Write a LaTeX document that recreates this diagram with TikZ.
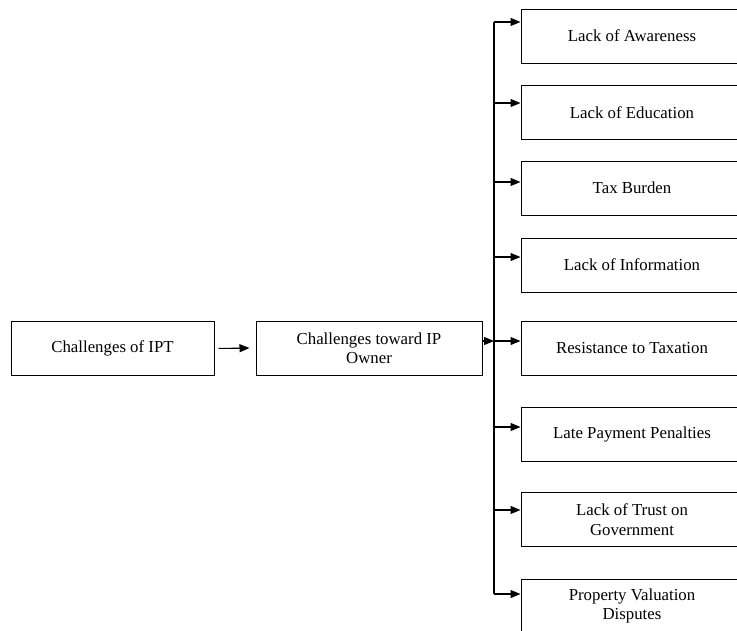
\documentclass[tikz,border=0pt]{standalone}
\usepackage{fontspec}
\setmainfont{Liberation Serif}
\usetikzlibrary{arrows.meta}
\begin{document}
\begin{tikzpicture}
	[x=1pt,y=-1pt,
	box/.style={draw,line width=1pt,minimum height=54pt,align=center,inner sep=0pt,font=\fontsize{16.8}{19.5}\selectfont},
	item/.style={box,minimum width=222pt},
	arr/.style={line width=1.1pt,-{Triangle[length=10pt,width=8pt]}}]
	\useasboundingbox (0,0) rectangle (737,630);
	\node[box,minimum width=203pt,name=ipt] at (112.5,348.5) {Challenges of IPT};
	\node[box,minimum width=226pt,name=owner] at (369,348) {Challenges toward IP\\Owner};
	\node[item,name=aware] at (632,36) {Lack of Awareness};
	\node[item,name=educ] at (632,112.5) {Lack of Education};
	\node[item,name=tax] at (632,188) {Tax Burden};
	\node[item,name=info] at (632,265) {Lack of Information};
	\node[item,name=resist] at (632,348) {Resistance to Taxation};
	\node[item,name=late] at (632,434.5) {Late Payment Penalties};
	\node[item,name=trust] at (632,519.5) {Lack of Trust on\\Government};
	\node[item,name=valu] at (632,606) {Property Valuation\\Disputes};
	\coordinate (b1) at (494,22);
	\coordinate (b2) at (494,103);
	\coordinate (b3) at (494,182);
	\coordinate (b4) at (494,257);
	\coordinate (b5) at (494,341);
	\coordinate (b6) at (494,427);
	\coordinate (b7) at (494,510);
	\coordinate (b8) at (494,594);
	\draw[arr,shorten <=4pt,shorten >=6pt] (ipt.east) -- (owner.west);
	\draw[arr] (owner.east |- b5) -- (b5);
	\draw[line width=2pt] (b1) -- (b8);
	\draw[arr] (b1) -- (b1 -| aware.west);
	\draw[arr] (b2) -- (b2 -| educ.west);
	\draw[arr] (b3) -- (b3 -| tax.west);
	\draw[arr] (b4) -- (b4 -| info.west);
	\draw[arr] (b5) -- (b5 -| resist.west);
	\draw[arr] (b6) -- (b6 -| late.west);
	\draw[arr] (b7) -- (b7 -| trust.west);
	\draw[arr] (b8) -- (b8 -| valu.west);
\end{tikzpicture}
\end{document}
